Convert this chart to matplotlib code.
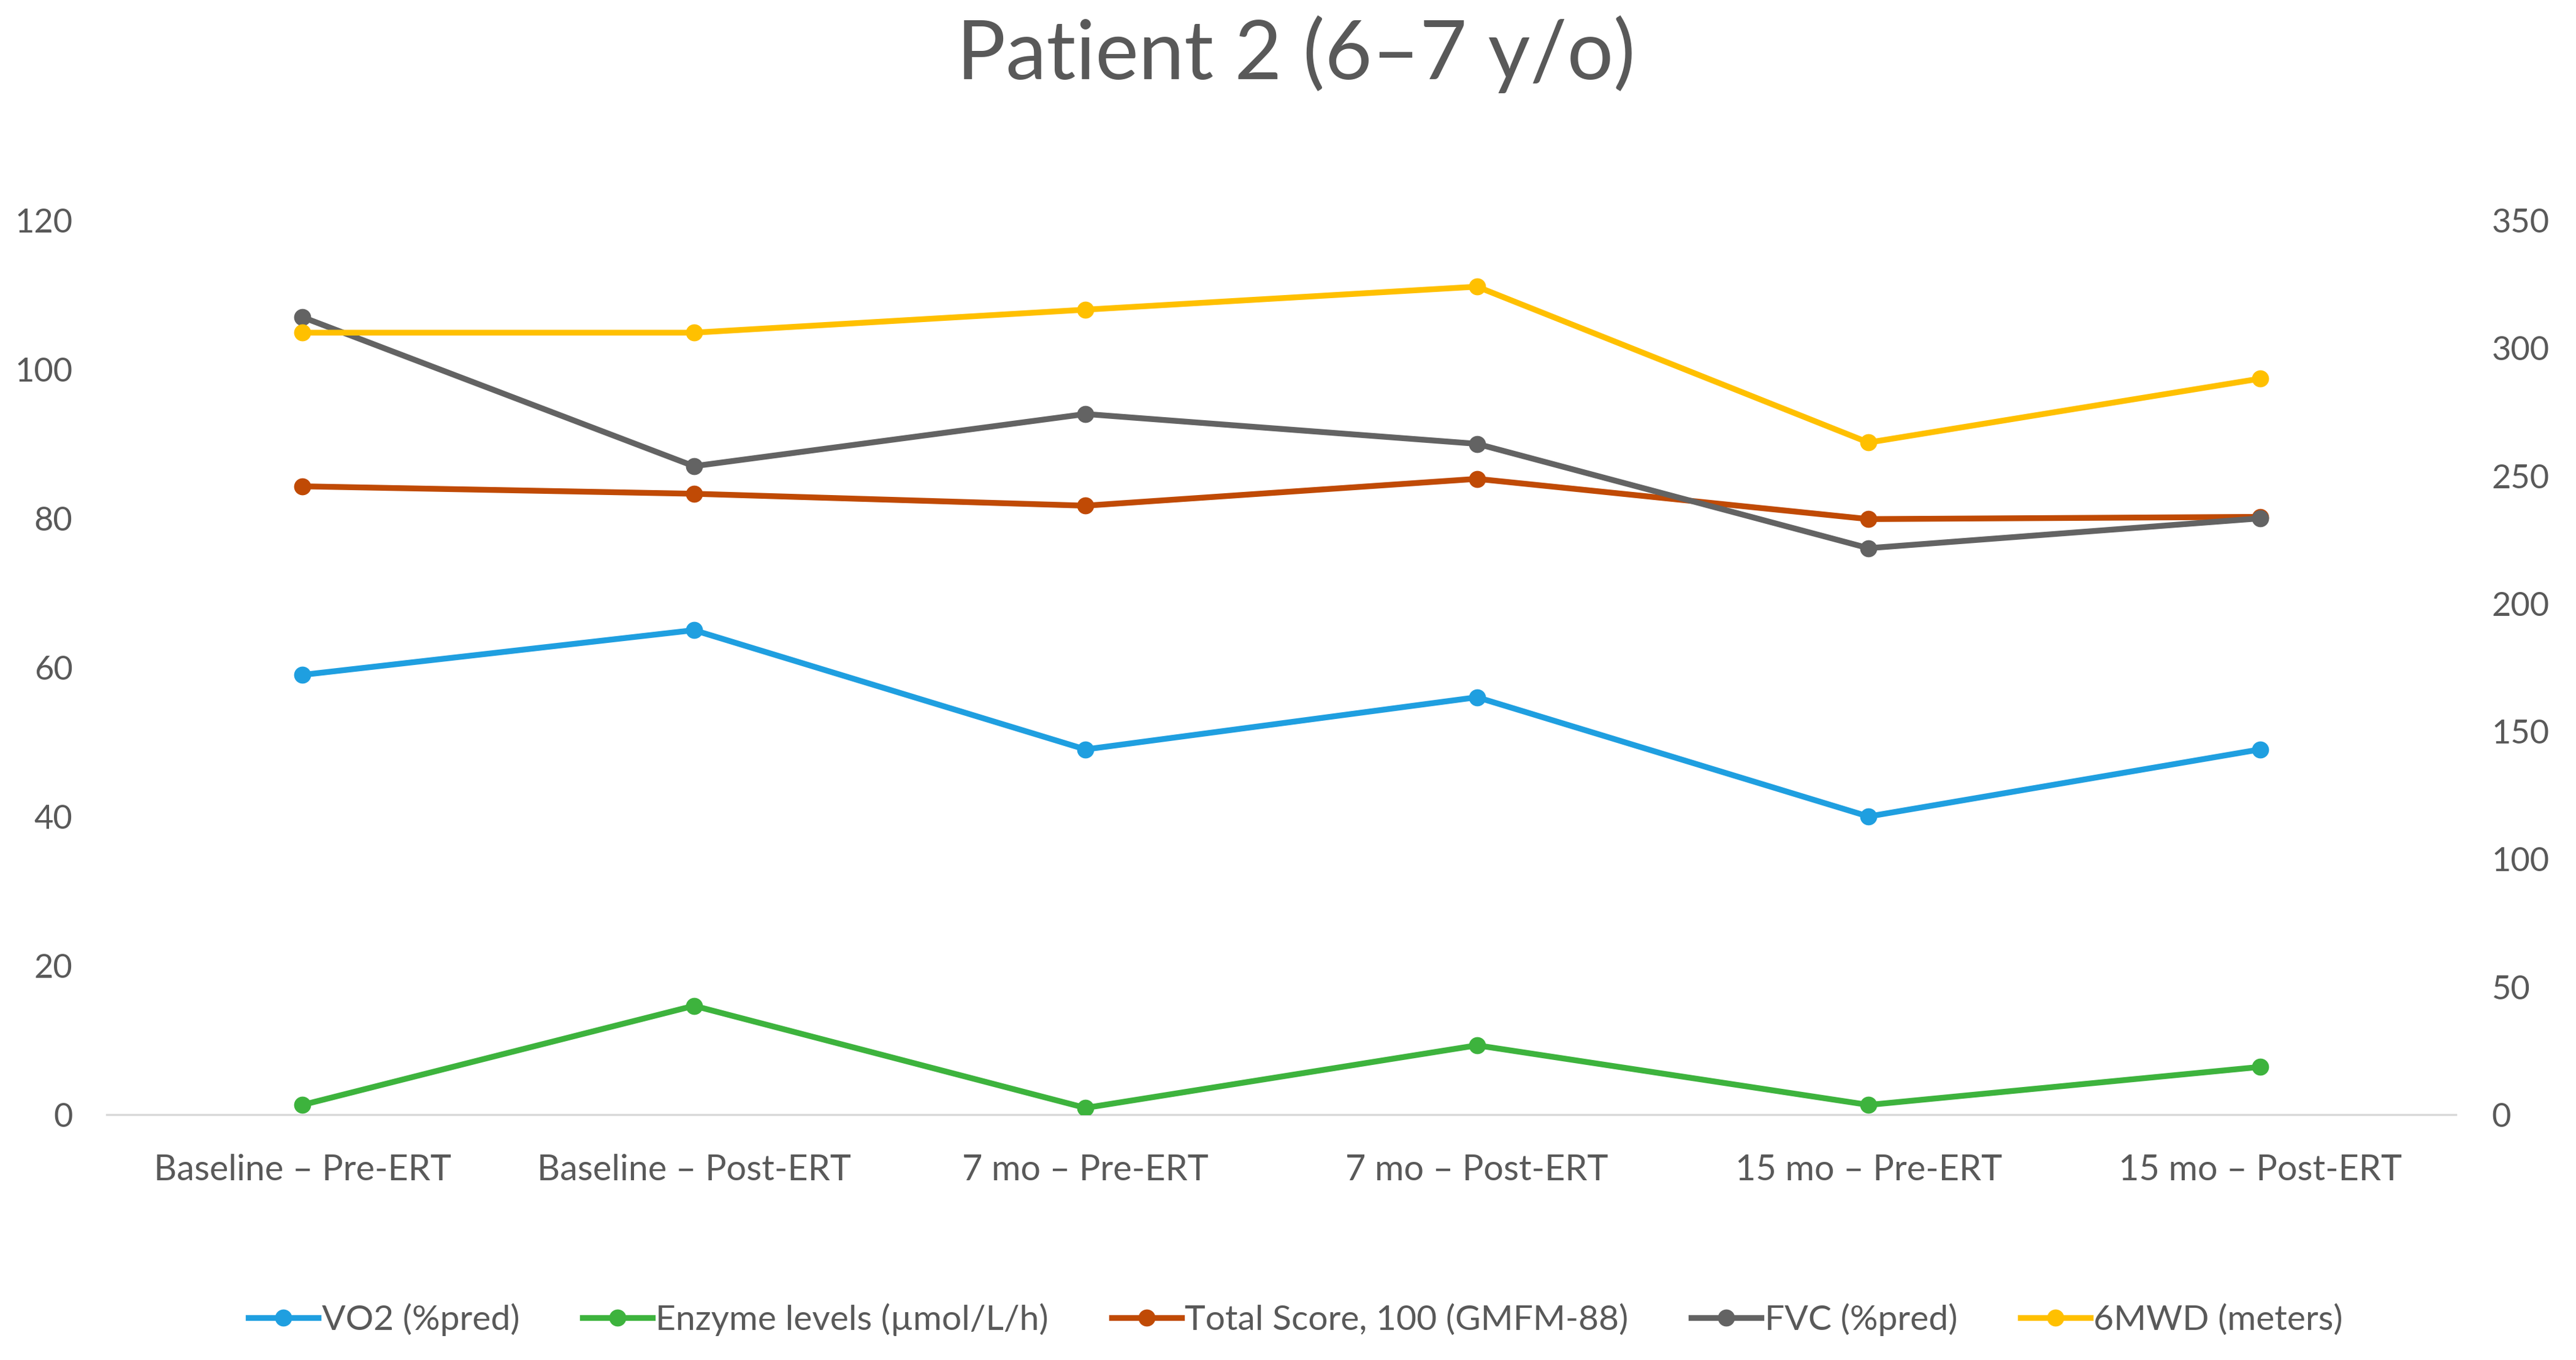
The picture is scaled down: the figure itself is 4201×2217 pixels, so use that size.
import matplotlib
matplotlib.use("Agg")
import matplotlib.pyplot as plt
from matplotlib.lines import Line2D

plt.rcParams['font.family'] = ['Lato', 'DejaVu Sans']

categories = ["Baseline – Pre-ERT", "Baseline – Post-ERT", "7 mo – Pre-ERT",
              "7 mo – Post-ERT", "15 mo – Pre-ERT", "15 mo – Post-ERT"]
vo2 = [59, 65, 49, 56, 40, 49]
enzyme = [1.3, 14.6, 0.9, 9.3, 1.3, 6.4]
total_score = [84.3, 83.3, 81.7, 85.3, 79.9, 80.2]
fvc = [107, 87, 94, 90, 76, 80]
mwd6 = [306, 306, 315, 324, 263, 288]

left_ticks = [0, 20, 40, 60, 80, 100, 120]
right_ticks = [0, 50, 100, 150, 200, 250, 300, 350]

labels = ["VO2 (%pred)", "Enzyme levels (µmol/L/h)", "Total Score, 100 (GMFM-88)",
          "FVC (%pred)", "6MWD (meters)"]
colors = ["#1F9FE0", "#3DB33D", "#C04A05", "#636363", "#FFC000"]

W, H = 4201, 2217
fig = plt.figure(figsize=(W / 100, H / 100), dpi=100)
ax = fig.add_axes([174 / W, 1 - 1817 / H, (4005 - 174) / W, (1817 - 359) / H])
ax2 = ax.twinx()

x = list(range(len(categories)))
lw = 6.8
ms = 19
left_series = [vo2, enzyme, total_score, fvc]
for vals, c in zip(left_series, colors[:4]):
    ax.plot(x, vals, color=c, lw=lw, marker='o', ms=ms, solid_capstyle='round',
            solid_joinstyle='round', zorder=3)
ax2.plot(x, mwd6, color=colors[4], lw=lw, marker='o', ms=ms, solid_capstyle='round',
         solid_joinstyle='round', zorder=3)

ax.set_xlim(-0.5, len(categories) - 0.5)
ax.set_ylim(0, 120)
ax2.set_ylim(0, 350)
ax.set_yticks(left_ticks)
ax2.set_yticks(right_ticks)
ax.set_xticks(x)
ax.set_xticklabels(categories)

tick_color = "#595959"
fs = 39
ax.tick_params(axis='y', length=0, pad=40, labelsize=fs, labelcolor=tick_color)
ax2.tick_params(axis='y', length=0, pad=42, labelsize=fs, labelcolor=tick_color)
ax.tick_params(axis='x', length=0, pad=46, labelsize=41.5, labelcolor=tick_color)

for a in (ax, ax2):
    for s in ['top', 'left', 'right']:
        a.spines[s].set_visible(False)
    a.spines['bottom'].set_color("#D9D9D9")
    a.spines['bottom'].set_linewidth(2.5)
ax2.spines['bottom'].set_visible(False)

fig.text(2113 / W, 1 - 88 / H, "Patient 2 (6–7 y/o)", ha='center', va='center',
         fontsize=96, color=tick_color)

handles = [Line2D([0], [0], color=c, lw=lw, marker='o', ms=ms) for c in colors]
leg = fig.legend(handles, labels, loc='center', bbox_to_anchor=(2113 / W, 1 - 2151 / H),
                 ncol=5, frameon=False, fontsize=41, handlelength=2.0, handletextpad=0.1,
                 columnspacing=1.8, labelcolor=tick_color)

fig.savefig("out.png", dpi=100, facecolor='white')
